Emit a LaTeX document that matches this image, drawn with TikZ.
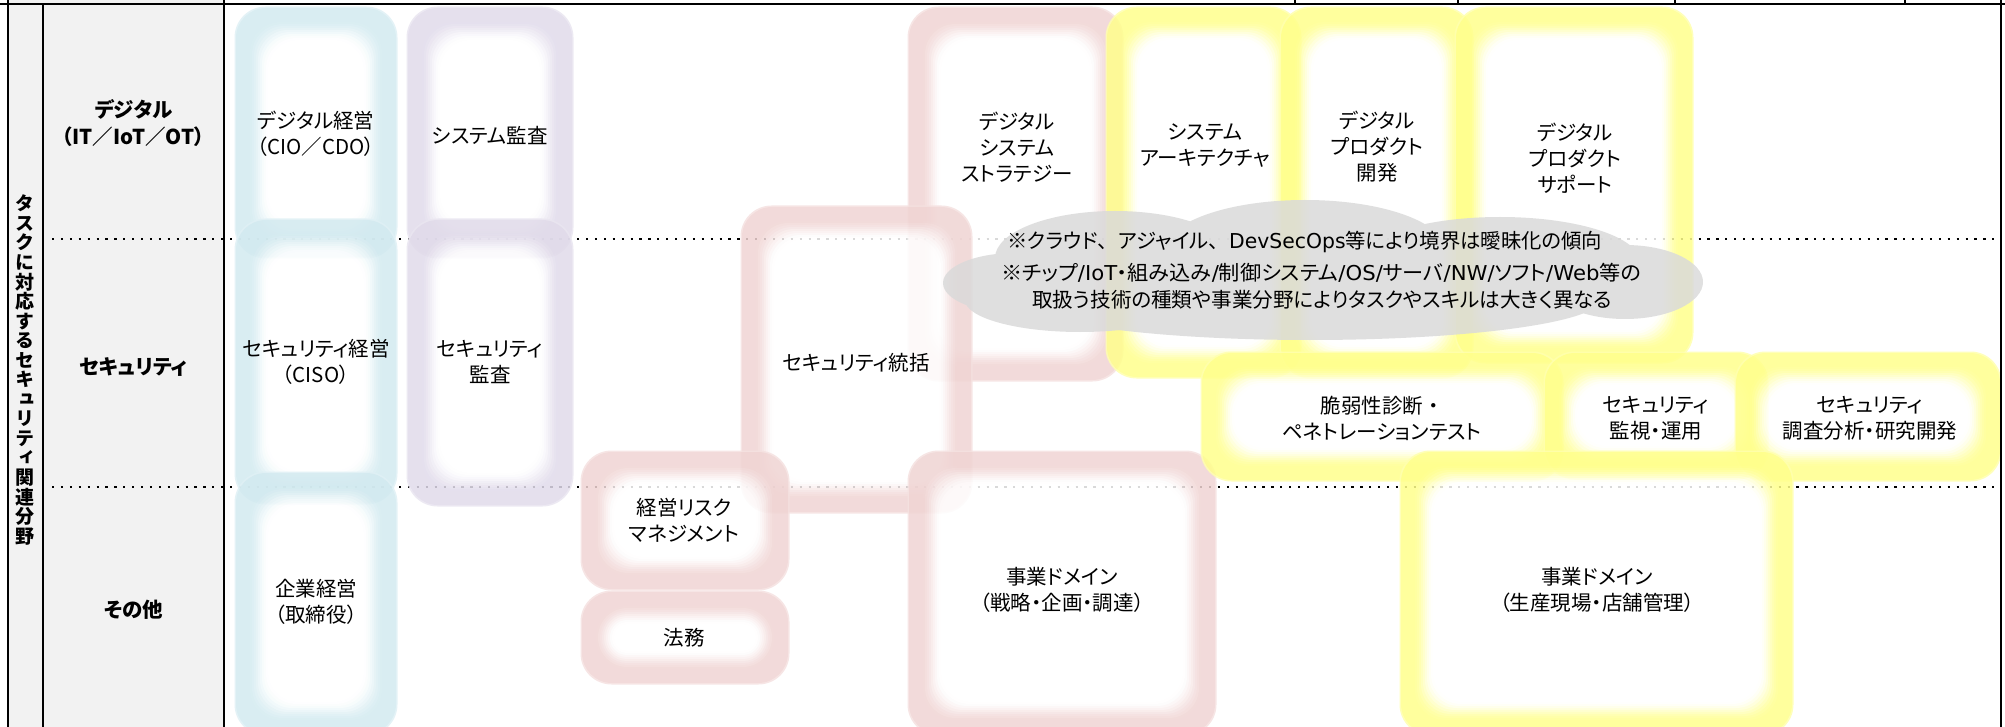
\documentclass[tikz,border=0pt]{standalone}
\usepackage{fontspec}
\usepackage{graphicx}
\newfontfamily\jp[RawFeature={+palt}]{Noto Sans CJK JP}
\newfontfamily\jpn{Noto Sans CJK JP}
\newfontfamily\jpv[RawFeature={+vert}]{Noto Sans CJK JP}
\newfontfamily\lat{DejaVu Sans}
\definecolor{colgray}{HTML}{F2F2F2}
\definecolor{cblue}{HTML}{D2EAF0}
\definecolor{cpurple}{HTML}{E0DAEA}
\definecolor{cpink}{HTML}{F0D4D3}
\definecolor{cyellow}{HTML}{FFFF8C}
\definecolor{ccloud}{HTML}{DADADA}
\newcommand\glowbox[5]{%
  \begin{scope}[transparency group, opacity=0.85]
    \fill[#1!70!white, rounded corners=31pt] ({#2-1.5},{#3-1.5}) rectangle ({#4+1.5},{#5+1.5});
    \foreach \k in {0,...,16}{%
      \pgfmathsetmacro\tt{min(1,max(0,(\k-6)/10))}%
      \pgfmathtruncatemacro\p{100*(1-(3*\tt*\tt-2*\tt*\tt*\tt))}%
      \pgfmathsetmacro\rr{min(30,((#5)-(#3)-4*\k)/2-0.5,((#4)-(#2)-4*\k)/2-0.5)}%
      \fill[#1!\p!white, rounded corners=\rr pt] ({#2+2*\k},{#3+2*\k}) rectangle ({#4-2*\k},{#5-2*\k});
    }%
  \end{scope}}
\newcommand\fitline[2]{\resizebox{#1pt}{\height}{#2}}
\tikzset{
  boxtext/.style={align=center, inner sep=0pt, font=\jp\fontsize{20.5}{26}\selectfont},
  rowlabel/.style={align=center, inner sep=0pt, font=\jp\bfseries\fontsize{20.5}{27}\selectfont},
  vertlabel/.style={align=center, inner sep=0pt, font=\jpv\bfseries\fontsize{19}{19.55}\selectfont},
  cloudtext/.style={anchor=west, inner sep=0pt, text height=13pt, text depth=2pt, font=\jp\fontsize{20.5}{25}\selectfont},
  gridline/.style={line width=2.4pt, black},
  dotline/.style={line width=2.2pt, dash pattern=on 2.2pt off 6.7pt, black},
}
\begin{document}
\begin{tikzpicture}[x=1pt, y=-1pt]
\useasboundingbox (0,0) rectangle (2005,727);
\clip (0,0) rectangle (2005,727);
% label columns background
\fill[colgray] (7.7,0) rectangle (224,727);
% row separators
\coordinate (d1a) at (52,239); \coordinate (d1b) at (1998,239);
\coordinate (d2a) at (52,487); \coordinate (d2b) at (1998,487);
\draw[dotline] (d1a) -- (d1b);
\draw[dotline] (d2a) -- (d2b);
% blue column
\glowbox{cblue}{236}{8}{396}{257}
\glowbox{cblue}{236}{220}{396}{503}
\glowbox{cblue}{236}{473}{396}{734}
% purple column
\glowbox{cpurple}{408}{8}{572}{257}
\glowbox{cpurple}{408}{220}{572}{505}
% pink boxes
\glowbox{cpink}{909}{8}{1122}{380}
\glowbox{cpink}{742}{207}{971}{512}
\glowbox{cpink}{582}{452}{788}{589}
\glowbox{cpink}{582}{592}{788}{683}
\glowbox{cpink}{909}{452}{1215}{734}
% yellow boxes
\glowbox{cyellow}{1107}{8}{1300}{377}
\glowbox{cyellow}{1281}{8}{1472}{377}
\glowbox{cyellow}{1456}{8}{1692}{362}
\glowbox{cyellow}{1202}{353}{1562}{480}
\glowbox{cyellow}{1545}{353}{1767}{478}
\glowbox{cyellow}{1736}{353}{2000}{480}
\glowbox{cyellow}{1401}{452}{1792}{734}
% cloud
\begin{scope}[transparency group, opacity=0.85]
  \fill[ccloud] (1015,283) ellipse [x radius=72, y radius=30];
  \fill[ccloud] (1115,258) ellipse [x radius=120, y radius=47];
  \fill[ccloud] (1305,250) ellipse [x radius=140, y radius=50];
  \fill[ccloud] (1500,262) ellipse [x radius=140, y radius=45];
  \fill[ccloud] (1625,282) ellipse [x radius=78, y radius=37];
  \fill[ccloud] (1310,300) ellipse [x radius=290, y radius=40];
  \fill[ccloud] (1080,300) ellipse [x radius=115, y radius=32];
\end{scope}
% grid lines
\coordinate (tl) at (0,4); \coordinate (tr) at (2005,4);
\draw[gridline] (tl) -- (tr);
\draw[gridline] (7.7,0) -- (7.7,727);
\draw[gridline] (43,4) -- (43,727);
\draw[gridline] (224,0) -- (224,727);
\draw[gridline] (2001,0) -- (2001,727);
\foreach \tx in {1295,1458,1675,1905}{\draw[line width=1.5pt] (\tx,0) -- (\tx,4);}
% row labels
\node[rowlabel] (labdig) at (133.5,123) {デジタル\\（IT／IoT／OT）};
\node[rowlabel] (labsec) at (133.5,367) {セキュリティ};
\node[rowlabel] (laboth) at (133.5,610) {その他};
\node[vertlabel] (labvert) at (25.4,370) {タ\\ス\\ク\\に\\対\\応\\す\\る\\セ\\キ\\ュ\\リ\\テ\\ィ\\関\\連\\分\\野};
% box texts
\node[boxtext] (tdm) at (316,134) {デジタル経営\\（CIO／CDO）};
\node[boxtext] (tsa) at (490,135) {システム監査};
\node[boxtext] (tsm) at (316,362) {セキュリティ経営\\（CISO）};
\node[boxtext] (tsau) at (490,362) {セキュリティ\\監査};
\node[boxtext] (tcm) at (316,602) {企業経営\\（取締役）};
\node[boxtext] (trm) at (684,520) {経営リスク\\マネジメント};
\node[boxtext] (tlg) at (684,638) {法務};
\node[boxtext] (tsg) at (856,363) {セキュリティ統括};
\node[boxtext] (tdss) at (1017,147) {デジタル\\システム\\ストラテジー};
\node[boxtext] (tarch) at (1205,146) {システム\\アーキテクチャ};
\node[boxtext] (tpd) at (1377,147) {デジタル\\プロダクト\\開発};
\node[boxtext] (tps) at (1575,158) {デジタル\\プロダクト\\サポート};
\node[boxtext] (tvt) at (1382,418) {脆弱性診断{\jpn ・}\\ペネトレーションテスト};
\node[boxtext] (tmo) at (1656,418) {セキュリティ\\監視・運用};
\node[boxtext] (trd) at (1870,418) {セキュリティ\\調査分析・研究開発};
\node[boxtext] (tbd1) at (1062,590) {事業ドメイン\\（戦略・企画・調達）};
\node[boxtext] (tbd2) at (1597,590) {事業ドメイン\\（生産現場・店舗管理）};
% cloud texts
\node[cloudtext] (c1) at (1007,243) {\fitline{595}{※クラウド{\jpn 、}アジャイル{\jpn 、}{\lat DevSecOps}等により境界は曖昧化の傾向}};
\node[cloudtext] (c2) at (1001,275) {\fitline{640}{※チップ{\lat /IoT}・組み込み{\lat /}制御システム{\lat /OS/}サーバ{\lat /NW/}ソフト{\lat /Web}等の}};
\node[cloudtext] (c3) at (1032,302) {\fitline{580}{取扱う技術の種類や事業分野によりタスクやスキルは大きく異なる}};
\end{tikzpicture}
\end{document}
